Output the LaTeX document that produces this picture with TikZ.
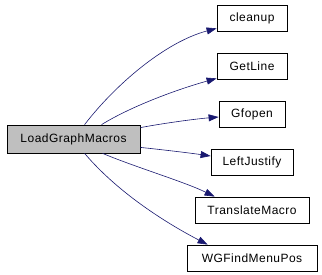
\documentclass[tikz,border=0pt]{standalone}
\usepackage{fontspec}
\setmainfont{Liberation Sans}[LetterSpace=4]
\usetikzlibrary{arrows.meta,calc}
\definecolor{edgeblue}{HTML}{191970}
\definecolor{mainfill}{HTML}{BFBFBF}
\tikzset{
  fn/.style={draw=black, line width=0.8pt, fill=white, minimum height=26pt, inner sep=0pt, font=\fontsize{12}{14}\selectfont, anchor=center},
  mainfn/.style={fn, fill=mainfill, minimum height=28pt},
  call/.style={draw=edgeblue, line width=0.6pt, -{Triangle[length=10pt,width=7pt]}},
}
\begin{document}
\begin{tikzpicture}[x=1pt,y=-1pt]
\useasboundingbox (0,0) rectangle (322,274);
\node[mainfn, minimum width=133pt] (main) at (73.5,139) {LoadGraphMacros};
\node[fn, minimum width=70pt] (cleanup) at (252,18) {cleanup};
\node[fn, minimum width=70pt] (getline) at (252,66) {GetLine};
\node[fn, minimum width=66pt] (gfopen) at (252,114) {Gfopen};
\node[fn, minimum width=82pt] (left) at (252,162.5) {LeftJustify};
\node[fn, minimum width=114pt] (trans) at (252,210) {TranslateMacro};
\node[fn, minimum width=130pt] (wgf) at (252,258) {WGFindMenuPos};
\draw[call] ($(main.north west)+(78,0)$) .. controls (115,85) and (165,42) .. ($(cleanup.south west)+(0,-3)$);
\draw[call] ($(main.north west)+(95,0)$) .. controls (130,107) and (175,90) .. ($(getline.south west)+(0,-1)$);
\draw[call] ($(main.north east)+(0,3)$) .. controls (165,123) and (195,119) .. ($(gfopen.west)+(0,3)$);
\draw[call] ($(main.south east)+(0,-6)$) .. controls (165,150) and (190,153) .. ($(left.west)+(0,-6.5)$);
\draw[call] ($(main.south west)+(96,0)$) .. controls (135,167) and (185,182) .. ($(trans.north west)+(20,0)$);
\draw[call] ($(main.south west)+(78,0)$) .. controls (120,195) and (170,225) .. ($(wgf.north west)+(21,0)$);
\end{tikzpicture}
\end{document}
